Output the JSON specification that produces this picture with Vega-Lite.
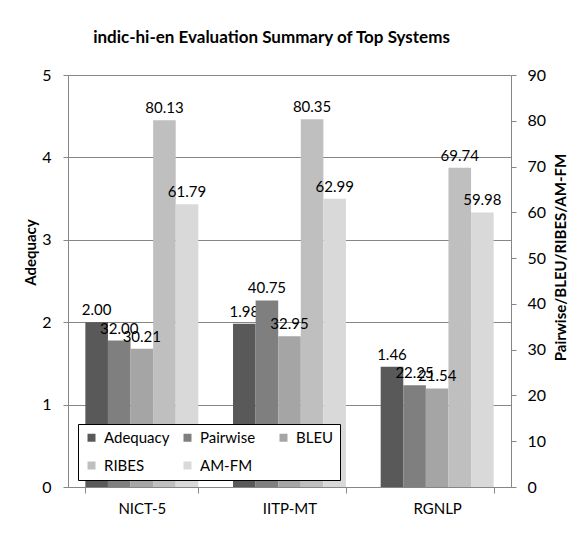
{
  "$schema": "https://vega.github.io/schema/vega-lite/v6.json",
  "width": 443,
  "height": 412,
  "autosize": {"type": "none"},
  "padding": {"left": 68, "top": 75, "right": 65, "bottom": 46},
  "background": "white",
  "config": {
    "font": "Lato",
    "view": {"stroke": null},
    "axis": {"labelFont": "Lato", "titleFont": "Lato", "labelColor": "black", "titleColor": "black"}
  },
  "title": {
    "text": "indic-hi-en Evaluation Summary of Top Systems",
    "fontSize": 17,
    "fontWeight": "bold",
    "font": "Lato",
    "color": "black",
    "anchor": "middle",
    "dx": -18,
    "offset": 20
  },
  "data": {
    "values": [
      {"system": "NICT-5", "series": "Adequacy", "value": 2.00},
      {"system": "NICT-5", "series": "Pairwise", "value": 32.00},
      {"system": "NICT-5", "series": "BLEU", "value": 30.21},
      {"system": "NICT-5", "series": "RIBES", "value": 80.13},
      {"system": "NICT-5", "series": "AM-FM", "value": 61.79},
      {"system": "IITP-MT", "series": "Adequacy", "value": 1.98},
      {"system": "IITP-MT", "series": "Pairwise", "value": 40.75},
      {"system": "IITP-MT", "series": "BLEU", "value": 32.95},
      {"system": "IITP-MT", "series": "RIBES", "value": 80.35},
      {"system": "IITP-MT", "series": "AM-FM", "value": 62.99},
      {"system": "RGNLP", "series": "Adequacy", "value": 1.46},
      {"system": "RGNLP", "series": "Pairwise", "value": 22.25},
      {"system": "RGNLP", "series": "BLEU", "value": 21.54},
      {"system": "RGNLP", "series": "RIBES", "value": 69.74},
      {"system": "RGNLP", "series": "AM-FM", "value": 59.98}
    ]
  },
  "encoding": {
    "x": {
      "field": "system",
      "type": "nominal",
      "sort": ["NICT-5", "IITP-MT", "RGNLP"],
      "scale": {"paddingInner": 0.235, "paddingOuter": 0.1175},
      "axis": {
        "title": null,
        "labelAngle": 0,
        "labelFontSize": 15,
        "labelPadding": 8,
        "tickBand": "extent",
        "tickSize": 6,
        "domainColor": "#868686",
        "tickColor": "#868686",
        "grid": false
      }
    },
    "xOffset": {
      "field": "series",
      "type": "nominal",
      "scale": {"domain": ["Adequacy", "Pairwise", "BLEU", "RIBES", "AM-FM"], "paddingInner": 0, "paddingOuter": 0}
    },
    "color": {
      "field": "series",
      "type": "nominal",
      "scale": {
        "domain": ["Adequacy", "Pairwise", "BLEU", "RIBES", "AM-FM"],
        "range": ["#595959", "#7f7f7f", "#a5a5a5", "#bfbfbf", "#d9d9d9"]
      },
      "legend": {
        "title": null,
        "orient": "none",
        "legendX": 10,
        "legendY": 349,
        "direction": "horizontal",
        "columns": 3,
        "gridAlign": "all",
        "symbolType": "square",
        "symbolSize": 64,
        "symbolStrokeWidth": 0,
        "symbolOffset": 0,
        "labelOffset": 5,
        "labelFontSize": 15,
        "labelFont": "Lato",
        "labelColor": "black",
        "columnPadding": 10,
        "rowPadding": 12,
        "padding": 6,
        "strokeColor": "black",
        "fillColor": "white"
      }
    }
  },
  "layer": [
    {
      "transform": [{"filter": "datum.series === 'Adequacy'"}],
      "encoding": {
        "y": {
          "field": "value",
          "type": "quantitative",
          "scale": {"domain": [0, 5]},
          "axis": {
            "orient": "left",
            "title": "Adequacy",
            "values": [0, 1, 2, 3, 4, 5],
            "grid": true,
            "gridColor": "#868686",
            "domainColor": "#868686",
            "tickColor": "#868686",
            "tickSize": 5,
            "labelPadding": 12,
            "labelFontSize": 16,
            "titleFontSize": 15,
            "titleFontWeight": "bold",
            "titleAngle": -90,
            "titleX": -38,
            "titleY": 177,
            "titleAlign": "center",
            "titleBaseline": "middle"
          }
        }
      },
      "layer": [
        {"mark": {"type": "bar"}},
        {
          "mark": {"type": "text", "baseline": "bottom", "dy": -4, "fontSize": 15, "color": "black"},
          "encoding": {"text": {"field": "value", "type": "quantitative", "format": ".2f"}, "color": {"value": "black"}}
        }
      ]
    },
    {
      "transform": [{"filter": "datum.series !== 'Adequacy'"}],
      "encoding": {
        "y": {
          "field": "value",
          "type": "quantitative",
          "scale": {"domain": [0, 90]},
          "axis": {
            "orient": "right",
            "title": "Pairwise/BLEU/RIBES/AM-FM",
            "values": [0, 10, 20, 30, 40, 50, 60, 70, 80, 90],
            "grid": false,
            "domainColor": "#868686",
            "tickColor": "#868686",
            "tickSize": 5,
            "labelPadding": 11,
            "labelFontSize": 16,
            "titleFontSize": 15,
            "titleFontWeight": "bold",
            "titleAngle": -90,
            "titleX": 49,
            "titleY": 182,
            "titleAlign": "center",
            "titleBaseline": "middle"
          }
        }
      },
      "layer": [
        {"mark": {"type": "bar"}},
        {
          "mark": {"type": "text", "baseline": "bottom", "dy": -4, "fontSize": 15, "color": "black"},
          "encoding": {"text": {"field": "value", "type": "quantitative", "format": ".2f"}, "color": {"value": "black"}}
        }
      ]
    }
  ],
  "resolve": {"scale": {"y": "independent"}}
}
